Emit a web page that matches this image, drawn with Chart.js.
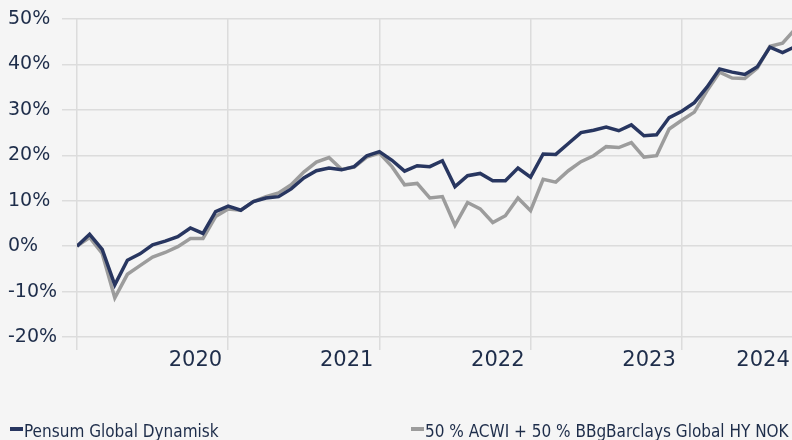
<!DOCTYPE html>
<html>
<head>
<meta charset="utf-8">
<script src="https://cdn.jsdelivr.net/npm/chart.js@4.4.1/dist/chart.umd.min.js"></script>
<style>
  html, body { margin: 0; padding: 0; background: #f5f5f5; }
  #wrap { position: relative; width: 792px; height: 440px; }
  #legend { position: absolute; left: 0; top: 0; width: 792px; height: 440px; pointer-events: none; }
  .item { position: absolute; top: 421px; font-family: 'DejaVu Sans Condensed', 'DejaVu Sans'; font-stretch: condensed;
          font-size: 17px; line-height: 20px; color: #1e2d4a; white-space: nowrap; }
  .item i { position: absolute; left: 0; top: 6px; width: 13px; height: 4px; }
  .item span { margin-left: 14px; }
</style>
</head>
<body>
<div id="wrap">
  <canvas id="chart"></canvas>
  <div id="legend"></div>
</div>
<script>
// monthly return since start, in %
const fund = [
  0, 2.6, -0.7, -8.5, -3.1, -1.7, 0.3, 1.1, 2.1, 4.0, 2.8, 7.6,
  8.8, 7.9, 9.8, 10.6, 10.9, 12.6, 15.0, 16.6, 17.2, 16.8, 17.5, 19.9,
  20.8, 18.9, 16.5, 17.7, 17.5, 18.8, 13.1, 15.5, 16.0, 14.4, 14.4, 17.2,
  15.2, 20.3, 20.2, 22.6, 25.0, 25.5, 26.2, 25.4, 26.7, 24.3, 24.5, 28.3,
  29.7, 31.6, 35.0, 39.0, 38.3, 37.8, 39.5, 43.8, 42.6, 43.9
];
const benchmark = [
  0, 1.9, -1.6, -11.4, -6.2, -4.3, -2.4, -1.4, -0.1, 1.7, 1.7, 6.5,
  8.2, 7.9, 9.8, 10.9, 11.7, 13.5, 16.3, 18.5, 19.5, 16.9, 17.4, 19.6,
  20.5, 17.5, 13.5, 13.8, 10.6, 10.9, 4.6, 9.6, 8.2, 5.2, 6.7, 10.6,
  7.8, 14.7, 14.1, 16.6, 18.6, 19.9, 21.9, 21.7, 22.8, 19.6, 19.9, 25.8,
  27.7, 29.5, 34.2, 38.3, 37.0, 36.9, 39.2, 44.0, 44.7, 47.8
];
const seriesNames = ['Pensum Global Dynamisk', '50 % ACWI + 50 % BBgBarclays Global HY NOK'];
const yearTicks = [0, 12, 24, 36, 48, 60];
const yearLabels = ['', '2020', '2021', '2022', '2023', '2024'];

const textColor = '#1e2d4a';
const gridColor = '#dcdcdc';
const xMax = 56.75;

const toPoints = arr => arr.map((y, i) => ({ x: i, y: y }));

const chart = new Chart(document.getElementById('chart'), {
  type: 'line',
  data: {
    datasets: [
      {
        label: seriesNames[0],
        data: toPoints(fund),
        borderColor: '#283660',
        backgroundColor: '#283660',
        borderWidth: 3.5,
        pointRadius: 0,
        tension: 0
      },
      {
        label: seriesNames[1],
        data: toPoints(benchmark),
        borderColor: '#9c9c9c',
        backgroundColor: '#9c9c9c',
        borderWidth: 3.5,
        pointRadius: 0,
        tension: 0
      }
    ]
  },
  options: {
    animation: false,
    responsive: true,
    maintainAspectRatio: false,
    layout: { padding: { left: 8, top: 19, right: 0, bottom: 63 } },
    plugins: {
      legend: { display: false },
      tooltip: { enabled: false }
    },
    scales: {
      x: {
        type: 'linear',
        min: 0,
        max: xMax,
        // last year label is pulled inside the plot, like a justified label
        afterBuildTicks: s => { s.ticks = yearTicks.map(v => ({ value: Math.min(v, s.max + 0.3) })); },
        afterFit: s => { s.height = 40; s.paddingLeft = 0; s.paddingRight = 0; },
        grid: { color: gridColor, lineWidth: 1.5, tickLength: 13 },
        border: { display: false },
        ticks: {
          autoSkip: false,
          maxRotation: 0,
          align: 'end',
          labelOffset: -6,
          padding: 0,
          color: textColor,
          font: { family: 'DejaVu Sans', size: 21, lineHeight: 1 },
          callback: (v, i) => yearLabels[i]
        }
      },
      y: {
        min: -20,
        max: 50,
        afterFit: s => { s.width = 69; },
        grid: { color: gridColor, lineWidth: 1.5, tickLength: 15 },
        border: { display: false },
        ticks: {
          stepSize: 10,
          crossAlign: 'far',
          padding: 0,
          color: textColor,
          font: { family: 'DejaVu Sans', size: 19 },
          callback: v => v + '%'
        }
      }
    }
  }
});

// html legend, spread out like the original
const legendLeft = [10, 411];
const legend = document.getElementById('legend');
chart.data.datasets.forEach((ds, i) => {
  const item = document.createElement('div');
  item.className = 'item';
  item.style.left = legendLeft[i] + 'px';
  item.innerHTML = `<i style="background:${ds.borderColor}"></i><span>${ds.label}</span>`;
  legend.appendChild(item);
});
</script>
</body>
</html>
